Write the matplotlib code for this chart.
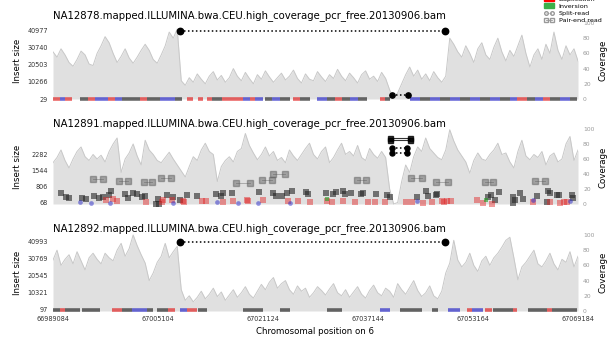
import matplotlib
matplotlib.use('Agg')
import matplotlib.pyplot as plt
from matplotlib.lines import Line2D
from matplotlib.patches import Patch
import numpy as np

region_start = 66989084
region_end = 67069184
x_ticks = [66989084, 67005104, 67021124, 67037144, 67053164, 67069184]

bam_names = ['NA12878.mapped.ILLUMINA.bwa.CEU.high_coverage_pcr_free.20130906.bam',
             'NA12891.mapped.ILLUMINA.bwa.CEU.high_coverage_pcr_free.20130906.bam',
             'NA12892.mapped.ILLUMINA.bwa.CEU.high_coverage_pcr_free.20130906.bam']

insert_ticks_1 = [29, 10266, 20503, 30740, 40977]
insert_ticks_2 = [68, 806, 1544, 2282]
insert_ticks_3 = [97, 10321, 20545, 30769, 40993]
cov_ticks = [0, 20, 40, 60, 80, 100]

# coverage, evenly spaced bins over the region
coverage_1 = [62, 55, 66, 58, 48, 43, 52, 63, 58, 46, 44, 60, 70, 82, 74, 60, 48, 56, 66, 54,
              47, 55, 64, 72, 64, 52, 47, 58, 70, 88, 80, 92,
              24, 18, 28, 22, 33, 26, 20, 30, 36, 25, 31, 22, 28, 40, 30, 24, 35, 27, 20, 32,
              26, 37, 29, 22, 28, 34, 25, 30, 38, 27, 21, 33, 26, 24, 36, 29, 23, 32, 27, 39,
              30, 24, 34, 28, 21, 32, 37, 26, 30, 23, 35, 27, 12,
              1, 8, 20, 32, 42,
              30, 38, 26, 33, 24, 36, 28, 22, 30,
              80, 72, 62, 55, 70, 60, 48, 66, 74, 58, 52, 68, 80, 62, 50, 64, 56, 70, 84, 60,
              42, 58, 66, 52, 72, 60, 88, 64, 52, 70, 58, 66, 50]
coverage_2 = [55, 62, 72, 58, 48, 60, 70, 76, 63, 58, 66, 60, 65, 56, 70, 80, 88, 42, 60, 68,
              80, 64, 52, 85, 72, 66, 58, 55, 62, 69, 60, 52, 44, 36, 50, 63, 58, 72, 81, 70,
              66, 30, 50, 58, 63, 56, 70, 74, 94, 78, 68, 59, 66, 76, 64, 70, 58, 62, 55, 72,
              64, 58, 66, 74, 81, 66, 60, 70, 76, 55, 62, 72, 81, 66, 70, 64, 78, 62, 58, 74,
              66, 61, 70, 62, 20, 0, 2, 30, 52, 42, 63, 76, 70, 88, 74, 68, 62, 59, 72, 99,
              84, 72, 64, 56, 41, 58, 68, 60, 58, 66, 72, 81, 66, 68, 56, 48, 70, 85, 64, 59,
              66, 62, 70, 52, 64, 68, 56, 60, 80, 90, 58, 72]
coverage_3 = [67, 80, 60, 68, 74, 62, 78, 66, 54, 70, 76, 68, 62, 76, 70, 66, 80, 89, 72, 82,
              100, 86, 74, 63, 40, 50, 64, 72, 89, 70, 78, 85,
              28, 14, 20, 12, 18, 26, 16, 22, 30, 19, 25, 14, 21, 28, 18, 24, 32, 22, 17, 26,
              35, 28, 38, 44, 30, 36, 40, 28, 22, 33, 26, 30, 18, 24, 32, 27, 21, 29, 36, 24,
              20, 28, 18, 25, 32, 22, 17, 27, 34, 24, 20, 30, 26, 18, 36, 28, 22, 31, 40, 27,
              19, 24, 33, 20, 16, 26,
              50, 63, 93, 67, 58, 64, 76, 60, 52, 66, 72, 60, 70, 76, 84, 93, 97, 70, 41, 58,
              64, 72, 80, 62, 58, 66, 76, 62, 54, 68, 64, 78, 58, 72]

# short-insert read pileups at the bottom of samples 1 and 3: (start, end, type)
strip_1 = [(66989100, 66990200, 'r'), (66990200, 66990900, 'b'), (66990900, 66992000, 'r'),
           (66993200, 66994400, 'k'), (66994400, 66995500, 'r'), (66995500, 66997500, 'b'),
           (66997500, 66998500, 'r'), (66998500, 66999600, 'b'), (66999600, 67002400, 'k'),
           (67002400, 67003400, 'r'), (67003400, 67005400, 'k'), (67005400, 67007700, 'b'),
           (67007700, 67008800, 'k'), (67009500, 67010400, 'r'), (67011200, 67012000, 'r'),
           (67012600, 67013300, 'r'), (67013300, 67014900, 'k'), (67014900, 67018100, 'r'),
           (67018100, 67019100, 'b'), (67019100, 67019900, 'r'), (67019900, 67021100, 'b'),
           (67021400, 67022500, 'k'), (67022500, 67023700, 'b'), (67023700, 67025200, 'k'),
           (67025700, 67026800, 'r'), (67026800, 67028300, 'k'), (67029400, 67030900, 'b'),
           (67030900, 67032100, 'k'), (67032100, 67033200, 'r'), (67033200, 67034400, 'k'),
           (67034400, 67035600, 'b'), (67035600, 67037000, 'k'), (67039000, 67039700, 'r'),
           (67039700, 67040500, 'k'), (67043600, 67045100, 'b'), (67045100, 67046600, 'k'),
           (67046600, 67048100, 'b'), (67048100, 67049700, 'k'), (67049700, 67051200, 'b'),
           (67051200, 67052700, 'k'), (67052700, 67054200, 'b'), (67054200, 67055800, 'k'),
           (67055800, 67057300, 'b'), (67057300, 67058800, 'k'), (67058800, 67059900, 'b'),
           (67059900, 67061400, 'r'), (67061400, 67062600, 'k'), (67062600, 67063800, 'b'),
           (67063800, 67064900, 'r'), (67064900, 67066400, 'k'), (67066400, 67068000, 'b'),
           (67068000, 67069000, 'k')]
strip_3 = [(66989100, 66990200, 'k'), (66990200, 66990900, 'r'), (66990900, 66992000, 'k'),
           (66992000, 66993200, 'k'), (66993500, 66996300, 'k'), (66998100, 66999600, 'r'),
           (66999600, 67001100, 'k'), (67001100, 67003400, 'b'), (67003400, 67004300, 'k'),
           (67004950, 67006600, 'k'), (67006600, 67007700, 'r'), (67008500, 67009500, 'b'),
           (67009500, 67011100, 'r'), (67011200, 67012600, 'k'), (67018100, 67021100, 'k'),
           (67023700, 67025200, 'k'), (67030900, 67033200, 'k'), (67039000, 67040500, 'b'),
           (67042000, 67045400, 'k'), (67046900, 67047800, 'k'), (67049400, 67051200, 'b'),
           (67052200, 67053000, 'r'), (67053000, 67054700, 'b'), (67055000, 67056100, 'r'),
           (67056200, 67059300, 'k'), (67059300, 67059900, 'r'), (67061600, 67064500, 'k'),
           (67064500, 67065200, 'r'), (67065200, 67069100, 'k')]
strip_insert_1 = 300
strip_insert_3 = 350

# sample 2 single reads (position, insert size)
pe_black_2 = [(66990300, 520), (66991100, 340), (66991500, 290), (66993500, 290), (66994100, 250),
              (66995400, 390), (66996100, 290), (66996700, 340), (66998000, 610), (66997600, 430),
              (67000100, 480), (67000500, 290), (67001300, 520), (67001900, 480), (67002700, 340),
              (67003100, 390), (67005100, 250), (67006500, 430), (67007400, 340), (67008500, 200),
              (67009500, 430), (67011100, 390), (67004800, 20), (67005300, 20),
              (67014000, 480), (67014700, 390), (67015000, 520), (67016400, 520), (67020500, 570),
              (67022600, 520), (67023100, 390), (67024000, 390), (67024800, 520), (67025500, 610),
              (67027700, 570), (67028000, 480), (67030700, 520), (67031800, 480), (67032300, 570),
              (67033300, 610), (67033600, 480), (67034600, 520), (67036400, 520), (67036100, 480),
              (67038400, 480), (67040000, 430), (67040500, 340), (67044600, 340),
              (67046000, 610), (67046300, 390), (67047500, 430), (67047700, 480), (67055500, 340),
              (67055900, 430), (67056500, 200), (67057100, 570), (67059300, 340), (67059600, 200),
              (67060300, 520), (67060800, 250), (67062900, 390), (67064600, 610), (67064900, 520),
              (67066000, 430), (67066300, 430), (67068300, 430), (67068400, 290), (67064500, 110),
              (67059300, 70)]
pe_red_2 = [(66997200, 200), (66998200, 250), (66998800, 160), (67003300, 110), (67005700, 110),
            (67005900, 200), (67007200, 200), (67008900, 160), (67009100, 110), (67011800, 160),
            (67012400, 160), (67015000, 110), (67016500, 160), (67018800, 160), (67018700, 200),
            (67021100, 200), (67024900, 160), (67026500, 160), (67028300, 110), (67030900, 160),
            (67031700, 110), (67033300, 160), (67035200, 110), (67037100, 110), (67038200, 110),
            (67039700, 110), (67042900, 110), (67043900, 110), (67045500, 70), (67046900, 110),
            (67048400, 160), (67048700, 110), (67049200, 160), (67049800, 160), (67053800, 200),
            (67054700, 70), (67056100, 20), (67062300, 110), (67064900, 110), (67066400, 70),
            (67067000, 110), (67067500, 110)]
sr_blue_2 = [(66993200, 110), (66994900, 70), (66997800, 70), (67007400, 70), (67014100, 110),
             (67017300, 70), (67020400, 70), (67025200, 70), (67044600, 160), (67062300, 200),
             (67068000, 160)]
pe_green_2 = [(67030900, 250), (67055100, 200)]
# sample 2 wider pairs (start, end, insert size)
pe_pairs_2 = [(66995200, 66996700, 1160), (66999200, 67000500, 1070), (67003000, 67004200, 1020),
              (67005600, 67007100, 1200), (67017000, 67019100, 970), (67021000, 67022500, 1110),
              (67022600, 67024500, 1380), (67035500, 67036800, 1110), (67043700, 67045400, 1200),
              (67047500, 67049300, 1020), (67055000, 67056200, 1020), (67062600, 67064100, 1070)]

# discordant evidence (start, end, insert size)
sv_split_1 = [(67008460, 67048890, 40977), (67040800, 67043250, 2440)]
sv_split_2 = [(67040800, 67043100, 2560), (67040800, 67043100, 2330)]
sv_pairs_2 = [(67040500, 67043600, 3010), (67040500, 67043600, 2920)]
sv_split_3 = [(67008460, 67048890, 40993)]

read_colors = {'k': '#262626', 'r': '#e02020', 'b': '#2828c8', 'g': '#20a020'}

W, H = 615, 337
fig = plt.figure(figsize=(W / 100, H / 100), dpi=100)


def box(top, bottom):
    return [53 / W, 1 - bottom / H, 525 / W, (bottom - top) / H]


def draw_panel(rect, name, cov, ins_lim, cov_lim, ins_ticks, bottom_labels):
    ax = fig.add_axes(rect)
    cov_ax = ax.twinx()
    x = np.linspace(region_start, region_end, len(cov))
    cov_ax.fill_between(x, cov, color='#e0e0e0', lw=0)
    cov_ax.plot(x, cov, color='#c8c8c8', lw=0.7)
    cov_ax.set_ylim(cov_lim)
    cov_ax.set_yticks(cov_ticks)
    cov_ax.tick_params(axis='y', labelsize=4.3, labelcolor='#9a9a9a', length=0, pad=3.6)
    ax.set_zorder(cov_ax.get_zorder() + 1)
    ax.patch.set_visible(False)
    ax.set_xlim(region_start, region_end)
    ax.set_ylim(ins_lim)
    ax.set_yticks(ins_ticks)
    ax.set_yticklabels([str(t) for t in ins_ticks])
    ax.tick_params(axis='y', labelsize=4.7, labelcolor='#333333', length=0, pad=3.6)
    ax.set_xticks(x_ticks)
    if bottom_labels:
        ax.set_xticklabels([str(t) for t in x_ticks])
        ax.tick_params(axis='x', labelsize=4.7, labelcolor='#333333', length=0, pad=3.2)
    else:
        ax.tick_params(axis='x', labelbottom=False, length=0)
    for a in (ax, cov_ax):
        for s in a.spines.values():
            s.set_visible(False)
    top_px = (1 - rect[1] - rect[3]) * H
    fig.text(53 / W, 1 - (top_px - 4.5) / H, name, fontsize=7.3, ha='left', va='center')
    yc = rect[1] + rect[3] / 2
    fig.text(18 / W, yc, 'Insert size', fontsize=6.2, rotation=90, ha='center', va='center')
    fig.text(603 / W, yc, 'Coverage', fontsize=6.2, rotation=90, ha='center', va='center')
    return ax


def draw_strip(ax, strip, ins):
    for s, e, t in strip:
        ax.plot([s, e], [ins, ins], color=read_colors[t], alpha=0.68, lw=2.6,
                solid_capstyle='butt')


def draw_sv(ax, split, pairs, ms):
    for s, e, ins in pairs:
        ax.plot([s, e], [ins, ins], color='black', lw=0.8, marker='s', ms=ms, alpha=0.8)
    for s, e, ins in split:
        ax.plot([s, e], [ins, ins], color='black', lw=1.1, ls=(0, (1, 1.6)),
                marker='o', ms=ms)


ax1 = draw_panel(box(20, 101), bam_names[0], coverage_1, (-1175, 47587), (-2.63, 103.9),
                 insert_ticks_1, False)
draw_strip(ax1, strip_1, strip_insert_1)
draw_sv(ax1, sv_split_1[:1], [], 4.6)
draw_sv(ax1, sv_split_1[1:], [], 3.8)

ax2 = draw_panel(box(128, 206), bam_names[1], coverage_2, (-68, 3466), (-2.67, 101.3),
                 insert_ticks_2, False)
for s, e, ins in pe_pairs_2:
    ax2.plot([s, e], [ins, ins], color='#555555', alpha=0.45, lw=0.6, marker='s', ms=4)
ax2.plot([p for p, i in pe_black_2], [i for p, i in pe_black_2], 's', color=read_colors['k'],
         alpha=0.6, ms=3.7, mew=0)
ax2.plot([p for p, i in pe_red_2], [i for p, i in pe_red_2], 's', color=read_colors['r'],
         alpha=0.45, ms=3.7, mew=0)
ax2.plot([p for p, i in sr_blue_2], [i for p, i in sr_blue_2], 'o', color=read_colors['b'],
         alpha=0.5, ms=3.4, mew=0)
ax2.plot([p for p, i in pe_green_2], [i for p, i in pe_green_2], 's', color=read_colors['g'],
         alpha=0.6, ms=3.4, mew=0)
draw_sv(ax2, sv_split_2, sv_pairs_2, 3.6)

ax3 = draw_panel(box(233, 312), bam_names[2], coverage_3, (-1105, 46374), (-1.32, 102.6),
                 insert_ticks_3, True)
draw_strip(ax3, strip_3, strip_insert_3)
draw_sv(ax3, sv_split_3, [], 4.6)

fig.text(315 / W, 1 - 331 / H, 'Chromosomal position on 6', fontsize=6.2, ha='center',
         va='center')

handles = [Patch(color='black', label='Deletion/Normal'),
           Patch(color='red', label='Duplication'),
           Patch(color='#3cb04a', label='Inversion'),
           Line2D([], [], color='#999999', marker='o', mfc='none', ls=':', lw=0.6, ms=2.6,
                  label='Split-read'),
           Line2D([], [], color='#999999', marker='s', mfc='none', ls='-', lw=0.6, ms=2.6,
                  label='Pair-end read')]
fig.legend(handles=handles, loc='lower left', bbox_to_anchor=(544 / W, 1 - 23 / H),
           frameon=False, fontsize=4.6, borderpad=0, handlelength=1.6, handletextpad=0.7,
           labelspacing=0.25, numpoints=2, borderaxespad=0)

fig.savefig('out.png', dpi=100)
